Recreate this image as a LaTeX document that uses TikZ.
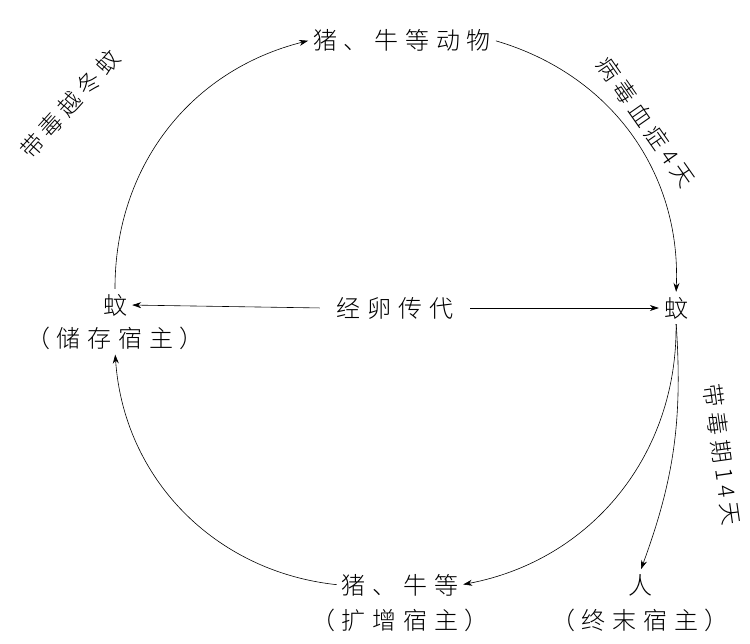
\documentclass[tikz,border=0pt]{standalone}
\usepackage{fontspec}
\newfontfamily\cjk[LetterSpace=28]{Noto Sans CJK SC Light}
\newfontfamily\cjkr[LetterSpace=22]{Noto Sans CJK SC Light}
\usetikzlibrary{arrows.meta}
\begin{document}
\begin{tikzpicture}[x=1pt,y=-1pt,
  lbl/.style={font=\cjk\fontsize{24}{26}\selectfont, inner sep=2pt, align=center},
  rlbl/.style={font=\cjkr\fontsize{23}{26}\selectfont, inner sep=1pt},
  arr/.style={-{Stealth[length=9pt,width=6pt]}, line width=0.6pt, shorten >=3pt, shorten <=3pt}]
\useasboundingbox (0,0) rectangle (750,643);
\node[lbl] (top) at (402,40) {猪、牛等动物};
\node[lbl] (lm) at (115,305) {蚊};
\node[lbl] (lmh) at (115,338) {（储存宿主）};
\node[lbl, inner sep=14pt] (mid) at (395,308) {经卵传代};
\node[lbl] (rm) at (676,308) {蚊};
\node[lbl] (bot) at (400,585) {猪、牛等};
\node[lbl] (both) at (400,620) {（扩增宿主）};
\node[lbl] (ren) at (640,585) {人};
\node[lbl] (renh) at (640,620) {（终末宿主）};
\node[rlbl, rotate=48] (l1) at (70,104) {带毒越冬蚊};
\node[rlbl, rotate=-55] (l2) at (646,122) {病毒血症4天};
\node[rlbl, rotate=-82] (l3) at (722,455) {带毒期14天};
\draw[arr] (mid.west) -- (lm.east);
\draw[arr] (mid.east) -- (rm.west);
\draw[arr] (lm.north) to[bend left=38] (top.west);
\draw[arr] (top.east) to[bend left=38] (rm.north);
\draw[arr] (rm.south) to[bend left=40] (bot.east);
\draw[arr] (bot.west) to[bend left=40] (lmh.south);
\draw[arr] (rm.south) to[bend left=12] (ren.north);
\end{tikzpicture}
\end{document}
